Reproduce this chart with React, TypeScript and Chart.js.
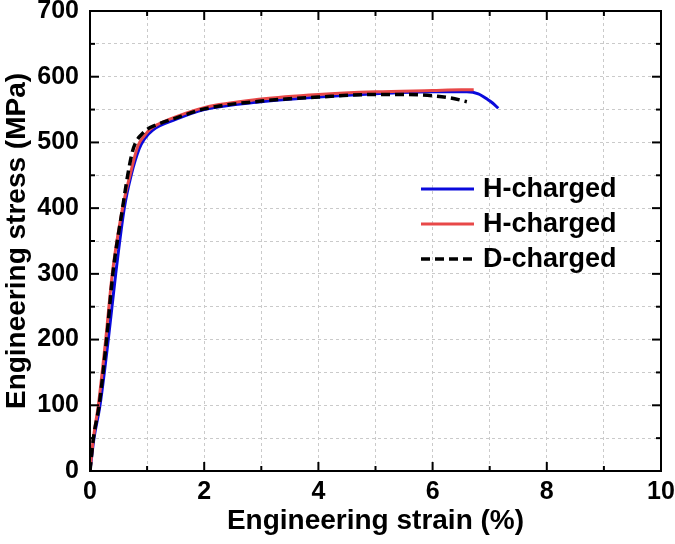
import React, { useEffect, useRef } from 'react';
import { Chart, registerables } from 'chart.js';
Chart.register(...registerables);

const seriesLabels = ['H-charged', 'H-charged', 'D-charged'];

const blueX = [0, 0.07, 0.175, 0.32, 0.45, 0.6, 0.72, 0.86, 0.95, 1.1, 1.5, 2, 3, 4, 5, 6, 6.6, 6.8, 6.97, 7.05, 7.15];
const blueY = [0, 50, 100, 200, 300, 400, 450, 490, 505, 519, 535, 550, 562, 569, 574, 577, 577, 574, 565, 560, 552];

const redX = [0, 0.06, 0.146, 0.275, 0.39, 0.57, 0.7, 0.84, 0.95, 1.05, 1.2, 1.5, 2, 3, 4, 5, 6, 6.5, 6.72];
const redY = [0, 50, 100, 200, 300, 400, 450, 495, 510, 520, 528, 539, 553, 566, 573, 577, 579, 580, 580];

const blackX = [0, 0.06, 0.16, 0.29, 0.4, 0.57, 0.66, 0.74, 0.8, 0.9, 1.0, 1.14, 1.5, 2, 3, 4, 5, 5.5, 6, 6.3, 6.6];
const blackY = [0, 50, 100, 200, 300, 400, 450, 485, 500, 512, 520, 526, 537, 551, 563, 569, 573, 573, 571, 568, 562];

const xTickMin = 0, xTickMax = 10, xStep = 1, xLabelEvery = 2;
const yTickMin = 0, yTickMax = 700, yStep = 50, yLabelEvery = 100;

const FONT = 'Arial, "Liberation Sans", sans-serif';

const toPts = (xs: number[], ys: number[]) => xs.map((x, i) => ({ x, y: ys[i] }));

const framePlugin = {
  id: 'frameTicksLegend',
  afterDatasetsDraw(chart: any) {
    const { ctx, chartArea: a, scales } = chart;
    const xs = scales.x, ys = scales.y;
    ctx.save();
    ctx.strokeStyle = '#000';
    ctx.lineWidth = 2;
    const line = (x1: number, y1: number, x2: number, y2: number) => {
      ctx.beginPath(); ctx.moveTo(x1, y1); ctx.lineTo(x2, y2); ctx.stroke();
    };
    xs.ticks.forEach((t: any) => {
      const px = xs.getPixelForValue(t.value);
      const len = t.value % xLabelEvery === 0 ? 9 : 5;
      line(px, a.bottom, px, a.bottom - len);
      line(px, a.top, px, a.top + len);
    });
    ys.ticks.forEach((t: any) => {
      const py = ys.getPixelForValue(t.value);
      const len = t.value % yLabelEvery === 0 ? 9 : 5;
      line(a.left, py, a.left + len, py);
      line(a.right, py, a.right - len, py);
    });
    ctx.strokeRect(a.left, a.top, a.right - a.left, a.bottom - a.top);

    // legend
    const lx0 = a.left + 331, lx1 = a.left + 384, tx = a.left + 393;
    let ly = a.top + 178;
    ctx.font = `bold 27px ${FONT}`;
    ctx.textBaseline = 'middle';
    ctx.fillStyle = '#000';
    chart.data.datasets.forEach((ds: any) => {
      ctx.save();
      ctx.strokeStyle = ds.borderColor;
      ctx.lineWidth = ds.borderWidth;
      ctx.setLineDash(ds.borderDash || []);
      line(lx0, ly, lx1, ly);
      ctx.restore();
      ctx.fillText(ds.label, tx, ly + 1);
      ly += 35;
    });
    ctx.restore();
  },
};

export default function App() {
  const ref = useRef<HTMLCanvasElement | null>(null);
  useEffect(() => {
    document.body.style.margin = '0';
    const c = new Chart(ref.current as HTMLCanvasElement, {
      type: 'line',
      data: {
        datasets: [
          { label: seriesLabels[0], data: toPts(blueX, blueY), borderColor: '#0a0adc', borderWidth: 3, pointRadius: 0, fill: false, cubicInterpolationMode: 'monotone', order: 2 },
          { label: seriesLabels[1], data: toPts(redX, redY), borderColor: '#e84848', borderWidth: 3, pointRadius: 0, fill: false, cubicInterpolationMode: 'monotone', order: 1 },
          { label: seriesLabels[2], data: toPts(blackX, blackY), borderColor: '#000000', borderWidth: 3.5, borderDash: [9, 5], pointRadius: 0, fill: false, cubicInterpolationMode: 'monotone', order: 0 },
        ] as any,
      },
      options: {
        animation: false,
        responsive: true,
        maintainAspectRatio: false,
        layout: { padding: { top: 11, right: 14, left: 0, bottom: 0 } },
        plugins: { legend: { display: false }, tooltip: { enabled: false } },
        scales: {
          x: {
            type: 'linear',
            min: xTickMin, max: xTickMax,
            grid: { color: '#cacaca', lineWidth: 1, drawTicks: false },
            border: { display: false, dash: [3, 3] },
            ticks: {
              stepSize: xStep, autoSkip: false, maxRotation: 0, padding: 9, color: '#000',
              font: { family: FONT, weight: 'bold', size: 25, lineHeight: 1 },
              callback: (v: any) => (Number(v) % xLabelEvery === 0 ? String(v) : ''),
            },
            title: { display: true, text: 'Engineering strain (%)', color: '#000', padding: { top: 9, bottom: 9 }, font: { family: FONT, weight: 'bold', size: 28, lineHeight: 1 } },
            afterFit: (s: any) => { s.height = 73; s.paddingLeft = 0; s.paddingRight = 0; },
          },
          y: {
            type: 'linear',
            min: yTickMin, max: yTickMax,
            grid: { color: '#cacaca', lineWidth: 1, drawTicks: false },
            border: { display: false, dash: [3, 3] },
            ticks: {
              stepSize: yStep, autoSkip: false, padding: 11, color: '#000',
              font: { family: FONT, weight: 'bold', size: 25, lineHeight: 1 },
              callback: (v: any) => (Number(v) % yLabelEvery === 0 ? String(v) : ''),
            },
            title: { display: true, text: 'Engineering stress (MPa)', color: '#000', padding: { top: 3, bottom: 3 }, font: { family: FONT, weight: 'bold', size: 28, lineHeight: 1 } },
            afterFit: (s: any) => { s.width = 90; s.paddingTop = 0; s.paddingBottom = 0; },
          },
        },
      } as any,
      plugins: [framePlugin],
    });
    return () => c.destroy();
  }, []);
  return (
    <div style={{ position: 'absolute', left: 0, top: 0, width: 675, height: 544 }}>
      <canvas ref={ref} />
    </div>
  );
}
